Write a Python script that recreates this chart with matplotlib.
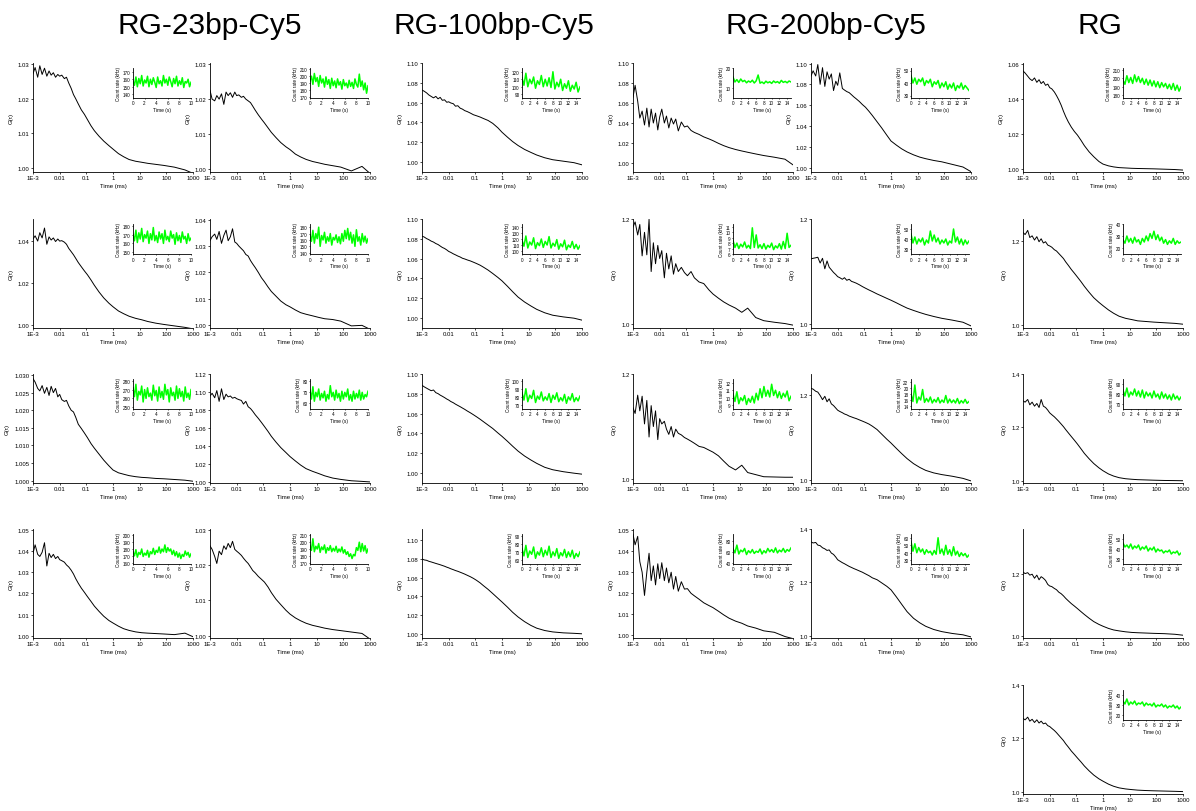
import matplotlib.pyplot as plt
from matplotlib.ticker import NullLocator

plt.rcParams['font.family'] = ['Liberation Sans', 'DejaVu Sans']

# lag times (ms) shared by every correlation curve
tau = [0.001, 0.0012, 0.0015, 0.0018, 0.0022, 0.0027, 0.0033, 0.004, 0.0048, 0.0058,
       0.007, 0.0085, 0.01, 0.012, 0.015, 0.018, 0.022, 0.027, 0.033, 0.04,
       0.05, 0.065, 0.085, 0.11, 0.15, 0.2, 0.3, 0.45, 0.7, 1,
       1.6, 2.5, 4, 7, 12, 20, 40, 80, 200, 500,
       1000]

# count rate time axes (s)
t10 = [0, 0.25, 0.5, 0.75, 1, 1.25, 1.5, 1.75, 2, 2.25,
       2.5, 2.75, 3, 3.25, 3.5, 3.75, 4, 4.25, 4.5, 4.75,
       5, 5.25, 5.5, 5.75, 6, 6.25, 6.5, 6.75, 7, 7.25,
       7.5, 7.75, 8, 8.25, 8.5, 8.75, 9, 9.25, 9.5, 9.75, 10]
t15 = [0, 0.5, 1, 1.5, 2, 2.5, 3, 3.5, 4, 4.5,
       5, 5.5, 6, 6.5, 7, 7.5, 8, 8.5, 9, 9.5,
       10, 10.5, 11, 11.5, 12, 12.5, 13, 13.5, 14, 14.5, 15]

# ---- G(tau) curves ----
g_23_1 = [1.0272, 1.0290, 1.0262, 1.0295, 1.0270, 1.0288, 1.0265, 1.0280, 1.0268, 1.0275,
          1.0262, 1.0270, 1.0265, 1.0268, 1.0258, 1.0262, 1.0245, 1.0230, 1.0212, 1.0200,
          1.0185, 1.0168, 1.0155, 1.0140, 1.0122, 1.0108, 1.0092, 1.0078, 1.0065, 1.0055,
          1.0042, 1.0033, 1.0025, 1.0020, 1.0017, 1.0014, 1.0011, 1.0008, 1.0003, 0.9995,
          0.9985]
g_23_2 = [1.0225, 1.0200, 1.0195, 1.0210, 1.0200, 1.0215, 1.0185, 1.0220, 1.0210, 1.0218,
          1.0205, 1.0220, 1.0210, 1.0212, 1.0205, 1.0208, 1.0200, 1.0195, 1.0190, 1.0180,
          1.0168, 1.0155, 1.0143, 1.0132, 1.0118, 1.0105, 1.0090, 1.0076, 1.0064, 1.0056,
          1.0043, 1.0035, 1.0028, 1.0022, 1.0018, 1.0014, 1.0010, 1.0006, 0.9995, 1.0008,
          0.9988]
g_23_3 = [1.0410, 1.0425, 1.0400, 1.0440, 1.0415, 1.0462, 1.0385, 1.0420, 1.0405, 1.0415,
          1.0398, 1.0410, 1.0400, 1.0402, 1.0395, 1.0385, 1.0365, 1.0350, 1.0335, 1.0318,
          1.0298, 1.0278, 1.0258, 1.0240, 1.0215, 1.0190, 1.0158, 1.0130, 1.0105, 1.0088,
          1.0068, 1.0055, 1.0043, 1.0033, 1.0026, 1.0018, 1.0010, 1.0004, 0.9997, 0.9990,
          0.9983]
g_23_4 = [1.0320, 1.0335, 1.0345, 1.0325, 1.0355, 1.0310, 1.0340, 1.0360, 1.0320, 1.0335,
          1.0365, 1.0315, 1.0310, 1.0300, 1.0290, 1.0282, 1.0268, 1.0262, 1.0245, 1.0232,
          1.0218, 1.0200, 1.0180, 1.0165, 1.0145, 1.0128, 1.0110, 1.0092, 1.0078, 1.0070,
          1.0058, 1.0048, 1.0042, 1.0036, 1.0030, 1.0025, 1.0022, 1.0016, 0.9998, 1.0000,
          0.9985]
g_23_5 = [1.0290, 1.0280, 1.0262, 1.0255, 1.0270, 1.0248, 1.0265, 1.0242, 1.0268, 1.0250,
          1.0262, 1.0238, 1.0245, 1.0230, 1.0225, 1.0228, 1.0212, 1.0200, 1.0195, 1.0180,
          1.0160, 1.0148, 1.0135, 1.0122, 1.0105, 1.0092, 1.0075, 1.0058, 1.0042, 1.0030,
          1.0022, 1.0018, 1.0014, 1.0011, 1.0009, 1.0008, 1.0006, 1.0005, 1.0003, 1.0001,
          0.9998]
g_23_6 = [1.0960, 1.0990, 1.0940, 1.1020, 1.0900, 1.1040, 1.0920, 1.0980, 1.0950, 1.0960,
          1.0935, 1.0945, 1.0930, 1.0920, 1.0910, 1.0870, 1.0900, 1.0840, 1.0820, 1.0790,
          1.0750, 1.0710, 1.0665, 1.0620, 1.0565, 1.0510, 1.0445, 1.0385, 1.0330, 1.0285,
          1.0235, 1.0190, 1.0150, 1.0120, 1.0095, 1.0070, 1.0045, 1.0030, 1.0015, 1.0008,
          1.0002]
g_23_7 = [1.0390, 1.0430, 1.0385, 1.0375, 1.0395, 1.0440, 1.0330, 1.0390, 1.0370, 1.0385,
          1.0365, 1.0375, 1.0360, 1.0355, 1.0348, 1.0335, 1.0325, 1.0310, 1.0292, 1.0270,
          1.0248, 1.0225, 1.0205, 1.0185, 1.0162, 1.0140, 1.0115, 1.0092, 1.0072, 1.0060,
          1.0045, 1.0033, 1.0025, 1.0018, 1.0014, 1.0012, 1.0010, 1.0008, 1.0005, 1.0012,
          0.9995]
g_23_8 = [1.0255, 1.0245, 1.0225, 1.0205, 1.0240, 1.0230, 1.0255, 1.0245, 1.0262, 1.0250,
          1.0268, 1.0245, 1.0240, 1.0235, 1.0228, 1.0220, 1.0212, 1.0205, 1.0195, 1.0185,
          1.0178, 1.0168, 1.0160, 1.0152, 1.0138, 1.0122, 1.0103, 1.0088, 1.0072, 1.0061,
          1.0050, 1.0042, 1.0035, 1.0029, 1.0025, 1.0021, 1.0017, 1.0014, 1.0010, 1.0006,
          0.9990]

g_100_1 = [1.0730, 1.0718, 1.0700, 1.0680, 1.0665, 1.0650, 1.0665, 1.0640, 1.0655, 1.0625,
           1.0630, 1.0605, 1.0610, 1.0598, 1.0590, 1.0565, 1.0570, 1.0545, 1.0535, 1.0520,
           1.0510, 1.0495, 1.0478, 1.0468, 1.0455, 1.0440, 1.0420, 1.0390, 1.0345, 1.0300,
           1.0250, 1.0205, 1.0165, 1.0125, 1.0095, 1.0068, 1.0040, 1.0020, 1.0005, 0.9990,
           0.9968]
g_100_2 = [1.0830, 1.0822, 1.0805, 1.0795, 1.0780, 1.0770, 1.0755, 1.0745, 1.0730, 1.0715,
           1.0705, 1.0690, 1.0675, 1.0665, 1.0650, 1.0640, 1.0628, 1.0618, 1.0605, 1.0598,
           1.0588, 1.0578, 1.0565, 1.0552, 1.0535, 1.0515, 1.0485, 1.0450, 1.0410, 1.0375,
           1.0320, 1.0265, 1.0210, 1.0160, 1.0120, 1.0085, 1.0050, 1.0025, 1.0008, 0.9995,
           0.9975]
g_100_3 = [1.0890, 1.0875, 1.0860, 1.0848, 1.0835, 1.0842, 1.0815, 1.0805, 1.0790, 1.0778,
           1.0765, 1.0750, 1.0740, 1.0725, 1.0712, 1.0698, 1.0685, 1.0672, 1.0658, 1.0645,
           1.0628, 1.0610, 1.0590, 1.0570, 1.0545, 1.0520, 1.0485, 1.0450, 1.0405, 1.0370,
           1.0320, 1.0270, 1.0220, 1.0170, 1.0130, 1.0095, 1.0055, 1.0030, 1.0010, 0.9995,
           0.9985]
g_100_4 = [1.0800, 1.0790, 1.0785, 1.0775, 1.0768, 1.0760, 1.0752, 1.0745, 1.0738, 1.0730,
           1.0722, 1.0712, 1.0705, 1.0695, 1.0685, 1.0676, 1.0668, 1.0658, 1.0648, 1.0638,
           1.0625, 1.0610, 1.0592, 1.0572, 1.0545, 1.0515, 1.0475, 1.0430, 1.0380, 1.0340,
           1.0285, 1.0230, 1.0180, 1.0130, 1.0090, 1.0060, 1.0035, 1.0020, 1.0010, 1.0005,
           1.0000]

g_200_1 = [1.0660, 1.0780, 1.0620, 1.0450, 1.0520, 1.0380, 1.0550, 1.0360, 1.0540, 1.0400,
           1.0500, 1.0330, 1.0460, 1.0540, 1.0400, 1.0470, 1.0350, 1.0450, 1.0390, 1.0440,
           1.0320, 1.0410, 1.0360, 1.0370, 1.0325, 1.0305, 1.0285, 1.0260, 1.0240, 1.0222,
           1.0195, 1.0172, 1.0152, 1.0133, 1.0118, 1.0105, 1.0088, 1.0072, 1.0055, 1.0035,
           0.9978]
g_200_2 = [1.0880, 1.0930, 1.0880, 1.0990, 1.0800, 1.0960, 1.0780, 1.0920, 1.0850, 1.0900,
           1.0740, 1.0830, 1.0790, 1.0910, 1.0760, 1.0745, 1.0730, 1.0720, 1.0700, 1.0680,
           1.0660, 1.0635, 1.0605, 1.0580, 1.0540, 1.0500, 1.0440, 1.0380, 1.0310, 1.0255,
           1.0215, 1.0180, 1.0150, 1.0122, 1.0100, 1.0085, 1.0068, 1.0055, 1.0030, 1.0005,
           0.9960]
g_200_3 = [1.1850, 1.1950, 1.1700, 1.1900, 1.1300, 1.1750, 1.1320, 1.2000, 1.1000, 1.1550,
           1.1150, 1.1500, 1.1250, 1.1400, 1.0880, 1.1350, 1.1050, 1.1300, 1.0950, 1.1150,
           1.1000, 1.1080, 1.0980, 1.0920, 1.1000, 1.0880, 1.0800, 1.0770, 1.0650, 1.0570,
           1.0490, 1.0420, 1.0360, 1.0300, 1.0220, 1.0300, 1.0120, 1.0060, 1.0030, 1.0005,
           0.9975]
g_200_4 = [1.1240, 1.1250, 1.1260, 1.1270, 1.1160, 1.1250, 1.1050, 1.1200, 1.1080, 1.1030,
           1.0980, 1.0940, 1.0900, 1.0880, 1.0850, 1.0880, 1.0830, 1.0850, 1.0810, 1.0795,
           1.0775, 1.0745, 1.0710, 1.0680, 1.0645, 1.0615, 1.0570, 1.0530, 1.0485, 1.0450,
           1.0400, 1.0350, 1.0300, 1.0255, 1.0215, 1.0180, 1.0140, 1.0105, 1.0070, 1.0030,
           0.9960]
g_200_5 = [1.1360, 1.1250, 1.1600, 1.1300, 1.1580, 1.1050, 1.1500, 1.0800, 1.1400, 1.1000,
           1.1300, 1.0750, 1.1150, 1.1050, 1.1100, 1.0950, 1.0850, 1.1000, 1.0800, 1.0950,
           1.0870, 1.0840, 1.0790, 1.0760, 1.0720, 1.0680, 1.0620, 1.0600, 1.0550, 1.0510,
           1.0440, 1.0340, 1.0240, 1.0170, 1.0260, 1.0120, 1.0080, 1.0040, 1.0035, 1.0030,
           1.0030]
g_200_6 = [1.2170, 1.2150, 1.2100, 1.2080, 1.2000, 1.1900, 1.1980, 1.1850, 1.1920, 1.1800,
           1.1760, 1.1700, 1.1650, 1.1620, 1.1590, 1.1560, 1.1540, 1.1510, 1.1490, 1.1470,
           1.1450, 1.1420, 1.1390, 1.1360, 1.1320, 1.1270, 1.1190, 1.1080, 1.0960, 1.0870,
           1.0740, 1.0620, 1.0500, 1.0380, 1.0290, 1.0220, 1.0160, 1.0120, 1.0080, 1.0030,
           0.9970]
g_200_7 = [1.0480, 1.0430, 1.0470, 1.0350, 1.0300, 1.0190, 1.0300, 1.0390, 1.0260, 1.0330,
           1.0240, 1.0340, 1.0270, 1.0345, 1.0260, 1.0320, 1.0250, 1.0300, 1.0220, 1.0280,
           1.0210, 1.0255, 1.0220, 1.0222, 1.0200, 1.0188, 1.0172, 1.0155, 1.0142, 1.0132,
           1.0115, 1.0098, 1.0082, 1.0068, 1.0058, 1.0045, 1.0035, 1.0022, 1.0015, 0.9995,
           0.9985]
g_200_8 = [1.3520, 1.3480, 1.3500, 1.3400, 1.3380, 1.3300, 1.3260, 1.3200, 1.3220, 1.3100,
           1.3050, 1.2950, 1.2850, 1.2800, 1.2740, 1.2700, 1.2650, 1.2600, 1.2560, 1.2520,
           1.2480, 1.2430, 1.2380, 1.2320, 1.2250, 1.2170, 1.2100, 1.1980, 1.1850, 1.1720,
           1.1450, 1.1180, 1.0900, 1.0650, 1.0480, 1.0350, 1.0230, 1.0150, 1.0080, 1.0030,
           0.9950]

g_rg_1 = [1.0560, 1.0548, 1.0530, 1.0515, 1.0505, 1.0520, 1.0495, 1.0510, 1.0488, 1.0500,
          1.0478, 1.0485, 1.0465, 1.0458, 1.0440, 1.0420, 1.0395, 1.0365, 1.0330, 1.0300,
          1.0270, 1.0240, 1.0215, 1.0195, 1.0165, 1.0135, 1.0100, 1.0072, 1.0045, 1.0030,
          1.0020, 1.0014, 1.0010, 1.0008, 1.0006, 1.0005, 1.0004, 1.0003, 1.0001, 0.9999,
          0.9996]
g_rg_2 = [1.2200, 1.2150, 1.2250, 1.2080, 1.2120, 1.2020, 1.2100, 1.1980, 1.2050, 1.1950,
          1.1980, 1.1900, 1.1880, 1.1850, 1.1790, 1.1760, 1.1700, 1.1640, 1.1580, 1.1500,
          1.1420, 1.1320, 1.1230, 1.1140, 1.1030, 1.0920, 1.0780, 1.0650, 1.0540, 1.0460,
          1.0360, 1.0280, 1.0210, 1.0160, 1.0130, 1.0100, 1.0085, 1.0070, 1.0055, 1.0040,
          1.0020]
g_rg_3 = [1.3000, 1.2950, 1.3050, 1.2850, 1.2950, 1.2800, 1.2900, 1.2750, 1.3050, 1.2800,
          1.2750, 1.2650, 1.2550, 1.2480, 1.2400, 1.2320, 1.2230, 1.2130, 1.2030, 1.1920,
          1.1800, 1.1660, 1.1520, 1.1380, 1.1200, 1.1030, 1.0830, 1.0650, 1.0490, 1.0380,
          1.0260, 1.0180, 1.0120, 1.0080, 1.0060, 1.0045, 1.0035, 1.0025, 1.0015, 1.0010,
          1.0005]
g_rg_4 = [1.2050, 1.2000, 1.2030, 1.1950, 1.1980, 1.1850, 1.1950, 1.1800, 1.1900, 1.1850,
          1.1780, 1.1650, 1.1600, 1.1580, 1.1520, 1.1480, 1.1400, 1.1350, 1.1280, 1.1200,
          1.1120, 1.1030, 1.0950, 1.0870, 1.0770, 1.0680, 1.0560, 1.0450, 1.0360, 1.0300,
          1.0230, 1.0180, 1.0150, 1.0120, 1.0100, 1.0090, 1.0080, 1.0070, 1.0060, 1.0040,
          1.0010]
g_rg_5 = [1.2750, 1.2700, 1.2800, 1.2650, 1.2720, 1.2600, 1.2700, 1.2580, 1.2650, 1.2550,
          1.2580, 1.2480, 1.2450, 1.2380, 1.2300, 1.2220, 1.2120, 1.2020, 1.1920, 1.1800,
          1.1680, 1.1530, 1.1400, 1.1270, 1.1120, 1.0970, 1.0790, 1.0630, 1.0490, 1.0400,
          1.0290, 1.0210, 1.0150, 1.0110, 1.0085, 1.0065, 1.0050, 1.0040, 1.0030, 1.0020,
          1.0010]

# ---- count rate traces (kHz) ----
cr_23_1 = [158, 152, 163, 150, 161, 154, 165, 151, 159, 155, 164, 150, 160, 153, 162, 156, 149, 163, 154, 158,
           151, 165, 155, 160, 152, 163, 157, 150, 161, 154, 164, 151, 158, 153, 162, 149, 157, 155, 160, 150, 156]
cr_23_2 = [193, 200, 188, 204, 192, 198, 185, 201, 190, 196, 184, 199, 188, 195, 182, 197, 186, 193, 183, 196,
           187, 192, 181, 195, 186, 190, 183, 194, 185, 191, 182, 196, 188, 184, 203, 185, 193, 180, 190, 175, 186]
cr_23_3 = [170, 163, 175, 161, 172, 165, 177, 162, 170, 166, 174, 160, 171, 164, 178, 163, 169, 161, 173, 165,
           171, 160, 175, 164, 168, 162, 174, 166, 170, 159, 172, 163, 169, 161, 173, 165, 168, 160, 171, 163, 166]
cr_23_4 = [168, 158, 175, 155, 170, 162, 180, 150, 167, 160, 172, 155, 165, 158, 170, 152, 164, 160, 168, 156,
           165, 154, 170, 158, 175, 162, 178, 160, 172, 155, 168, 150, 176, 158, 165, 152, 170, 157, 166, 155, 162]
cr_23_5 = [272, 262, 276, 258, 268, 264, 274, 256, 270, 260, 272, 262, 266, 258, 275, 263, 269, 257, 273, 261,
           268, 259, 276, 264, 270, 256, 272, 263, 267, 258, 274, 260, 271, 262, 268, 257, 273, 261, 266, 259, 270]
cr_23_6 = [72, 64, 75, 62, 70, 66, 73, 63, 69, 65, 71, 62, 68, 64, 76, 66, 70, 63, 72, 65,
           69, 62, 71, 64, 70, 66, 73, 63, 68, 62, 71, 64, 69, 65, 72, 63, 70, 64, 68, 66, 71]
cr_23_7 = [176, 170, 179, 168, 175, 172, 180, 169, 174, 171, 178, 168, 176, 173, 181, 172, 178, 175, 183, 174,
           180, 176, 186, 175, 182, 177, 180, 172, 178, 170, 176, 168, 174, 166, 172, 169, 177, 171, 175, 168, 173]
cr_23_8 = [195, 188, 205, 186, 194, 190, 198, 185, 193, 189, 196, 184, 192, 188, 195, 186, 191, 187, 194, 185,
           190, 186, 193, 184, 189, 182, 186, 179, 183, 176, 182, 180, 192, 188, 200, 186, 198, 187, 195, 184, 190]

cr_100_1 = [112, 102, 118, 100, 110, 104, 113, 98, 108, 103, 115, 100, 110, 101, 112, 99,
            120, 97, 106, 100, 110, 95, 104, 98, 108, 94, 102, 97, 106, 93, 100]
cr_100_2 = [118, 108, 125, 105, 115, 110, 122, 104, 114, 109, 120, 106, 116, 110, 124, 105,
            113, 108, 119, 103, 112, 107, 118, 102, 110, 106, 116, 104, 111, 103, 109]
cr_100_3 = [85, 76, 90, 74, 82, 78, 88, 73, 81, 77, 86, 75, 80, 76, 84, 73,
            82, 77, 85, 74, 79, 75, 83, 72, 80, 76, 84, 74, 79, 75, 81]
cr_100_4 = [74, 65, 78, 63, 71, 67, 76, 62, 70, 66, 75, 64, 72, 66, 77, 63,
            70, 65, 74, 62, 69, 65, 73, 63, 70, 64, 72, 62, 68, 64, 70]

cr_200_1 = [15.5, 13.0, 14.2, 12.8, 14.5, 13.2, 13.8, 12.6, 13.5, 12.9, 13.9, 12.5, 13.6, 16.5, 12.4, 13.0,
            12.2, 13.4, 12.6, 13.1, 12.3, 13.5, 12.7, 13.2, 12.4, 13.8, 12.8, 13.3, 12.6, 13.5, 13.0]
cr_200_2 = [46, 40, 44, 39, 43, 41, 44, 38, 42, 40, 43, 37, 41, 39, 42, 36,
            40, 37, 41, 35, 39, 36, 40, 34, 38, 36, 40, 35, 38, 36, 34]
cr_200_3 = [8.5, 7.2, 8.0, 7.0, 7.8, 7.3, 8.2, 7.1, 7.6, 7.0, 10.8, 7.2, 9.5, 7.1, 7.7, 7.0,
            7.9, 6.9, 7.6, 7.2, 8.0, 6.8, 7.5, 7.1, 7.9, 6.9, 8.3, 7.0, 9.8, 7.2, 7.6]
cr_200_4 = [45, 36, 42, 35, 40, 37, 41, 34, 39, 36, 48, 38, 44, 37, 41, 35,
            39, 36, 40, 34, 38, 36, 50, 37, 42, 35, 40, 34, 39, 35, 38]
cr_200_5 = [10.5, 9.5, 10.8, 9.2, 10.0, 9.6, 10.3, 9.1, 9.9, 9.4, 10.2, 9.3, 10.6, 9.7, 11.2, 10.0,
            11.5, 10.2, 11.0, 10.1, 11.8, 10.3, 11.0, 10.0, 10.8, 9.9, 10.6, 10.1, 10.9, 9.6, 10.2]
cr_200_6 = [18, 15.5, 21, 15, 17, 16, 19.5, 15.2, 16.5, 15.4, 17, 15, 16.2, 15.3, 16.8, 15,
            16, 15.2, 17.5, 15, 16.3, 15.1, 16, 15, 16.5, 14.8, 15.8, 15, 16.2, 14.9, 15.5]
cr_200_7 = [66, 58, 72, 56, 63, 60, 66, 55, 62, 58, 64, 57, 61, 59, 65, 56,
            62, 58, 66, 60, 64, 59, 67, 58, 63, 60, 66, 59, 64, 61, 67]
cr_200_8 = [55, 42, 52, 40, 47, 41, 45, 38, 44, 40, 42, 37, 43, 38, 60, 39,
            45, 37, 50, 38, 44, 36, 48, 37, 42, 35, 40, 36, 39, 34, 37]

cr_rg_1 = [198, 193, 203, 195, 201, 194, 204, 196, 202, 195, 200, 193, 199, 192, 198, 191,
           197, 190, 196, 189, 195, 190, 194, 188, 193, 187, 194, 186, 192, 185, 190]
cr_rg_2 = [27, 24, 30, 25, 28, 24, 29, 25, 27, 23, 28, 25, 30, 26, 32, 28,
           34, 27, 31, 26, 29, 24, 27, 23, 26, 24, 28, 23, 26, 24, 25]
cr_rg_3 = [84, 78, 86, 77, 82, 79, 85, 78, 83, 77, 84, 76, 82, 78, 81, 76,
           83, 77, 80, 75, 82, 76, 80, 75, 79, 74, 80, 75, 78, 74, 77]
cr_rg_4 = [46, 42, 44, 41, 45, 40, 43, 41, 44, 39, 42, 40, 43, 38, 41, 39,
           42, 37, 40, 38, 39, 36, 38, 37, 39, 35, 37, 36, 38, 34, 36]
cr_rg_5 = [34, 31, 36, 30, 33, 31, 34, 30, 32, 31, 33, 29, 32, 30, 31, 29,
           32, 28, 30, 29, 31, 28, 30, 27, 29, 28, 30, 27, 29, 26, 28]

titres = ["RG-23bp-Cy5", "RG-100bp-Cy5", "RG-200bp-Cy5", "RG"]

# ---- layout (pixels of the 1196x812 figure) ----
W, H = 1196, 812
COL_X = [33, 210, 422, 633, 811, 1023]
ROW_Y = [64, 220, 375, 530, 686]
AX_W, AX_H = 160, 109
TITRE_X = [210, 494, 826, 1100]

d2 = [1.00, 1.01, 1.02, 1.03]
d2b = [1.00, 1.01, 1.02, 1.03, 1.04]
d2c = [1.00, 1.01, 1.02, 1.03, 1.04, 1.05]
s02 = [1.00, 1.02, 1.04, 1.06, 1.08, 1.10]
s02b = [1.00, 1.02, 1.04, 1.06, 1.08, 1.10, 1.12]
s005 = [1.000, 1.005, 1.010, 1.015, 1.020, 1.025, 1.030]

# col, row, curve, ylim, yticks, fmt, trace, trace ylim, trace yticks
panneaux = [
    (0, 0, g_23_1, (0.9989, 1.0303), d2, '%.2f', cr_23_1, (135, 175), [140, 150, 160, 170]),
    (1, 0, g_23_2, (0.9992, 1.0303), d2, '%.2f', cr_23_2, (168, 212), [170, 180, 190, 200, 210]),
    (0, 1, g_23_3, (0.9987, 1.0505), [1.00, 1.02, 1.04], '%.2f', cr_23_3, (148, 182), [150, 160, 170, 180]),
    (1, 1, g_23_4, (0.9990, 1.0402), d2b, '%.2f', cr_23_4, (138, 185), [140, 150, 160, 170, 180]),
    (0, 2, g_23_5, (0.9993, 1.0303), s005, '%.3f', cr_23_5, (248, 282), [250, 260, 270, 280]),
    (1, 2, g_23_6, (0.9990, 1.1205), s02b, '%.2f', cr_23_6, (55, 82), [60, 70, 80]),
    (0, 3, g_23_7, (0.9989, 1.0505), d2c, '%.2f', cr_23_7, (158, 202), [160, 170, 180, 190, 200]),
    (1, 3, g_23_8, (0.9993, 1.0303), d2, '%.2f', cr_23_8, (168, 212), [170, 180, 190, 200, 210]),
    (2, 0, g_100_1, (0.9895, 1.1005), s02, '%.2f', cr_100_1, (85, 125), [90, 100, 110, 120]),
    (2, 1, g_100_2, (0.9895, 1.1005), s02, '%.2f', cr_100_2, (95, 145), [100, 110, 120, 130, 140]),
    (2, 2, g_100_3, (0.9895, 1.1005), s02, '%.2f', cr_100_3, (65, 102), [70, 80, 90, 100]),
    (2, 3, g_100_4, (0.9955, 1.1120), s02, '%.2f', cr_100_4, (55, 92), [60, 70, 80, 90]),
    (3, 0, g_200_1, (0.9906, 1.1005), s02, '%.2f', cr_200_1, (5, 20), [10, 20]),
    (4, 0, g_200_2, (0.9957, 1.1005), s02, '%.2f', cr_200_2, (28, 52), [30, 40, 50]),
    (3, 1, g_200_3, (0.9920, 1.2005), [1.0, 1.2], '%.1f', cr_200_3, (6, 11.5), [6, 7, 8, 9, 10, 11]),
    (4, 1, g_200_4, (0.9920, 1.1600), [1.0, 1.2], '%.1f', cr_200_4, (25, 55), [30, 40, 50]),
    (3, 2, g_200_5, (0.9920, 1.2005), [1.0, 1.2], '%.1f', cr_200_5, (8.5, 12.5), [9, 10, 11, 12]),
    (4, 2, g_200_6, (0.9920, 1.2510), [1.0, 1.2], '%.1f', cr_200_6, (13, 23), [14, 16, 18, 20, 22]),
    (3, 3, g_200_7, (0.9988, 1.0505), d2c, '%.2f', cr_200_7, (38, 92), [40, 60, 80]),
    (4, 3, g_200_8, (0.9910, 1.4005), [1.0, 1.2, 1.4], '%.1f', cr_200_8, (25, 65), [30, 40, 50, 60]),
    (5, 0, g_rg_1, (0.9985, 1.0605), [1.00, 1.02, 1.04, 1.06], '%.2f', cr_rg_1, (177, 212), [180, 190, 200, 210]),
    (5, 1, g_rg_2, (0.9930, 1.2520), [1.0, 1.2], '%.1f', cr_rg_2, (15, 40), [20, 30, 40]),
    (5, 2, g_rg_3, (0.9920, 1.4005), [1.0, 1.2, 1.4], '%.1f', cr_rg_3, (65, 95), [70, 80, 90]),
    (5, 3, g_rg_4, (0.9920, 1.3440), [1.0, 1.2], '%.1f', cr_rg_4, (25, 55), [30, 40, 50]),
    (5, 4, g_rg_5, (0.9920, 1.4005), [1.0, 1.2, 1.4], '%.1f', cr_rg_5, (15, 45), [20, 30, 40]),
]

xt = [1e-3, 1e-2, 1e-1, 1, 10, 100, 1000]
xt_lab = ['1E-3', '0.01', '0.1', '1', '10', '100', '1000']


def style(ax, taille):
    ax.spines['top'].set_visible(False)
    ax.spines['right'].set_visible(False)
    for s in ['left', 'bottom']:
        ax.spines[s].set_linewidth(0.6)
    ax.tick_params(direction='out', length=1.5, width=0.5, labelsize=taille, pad=1)


def panneau(fig, col, row, g, ylim, yticks, fmt, cr, cr_ylim, cr_ticks):
    left = COL_X[col] / W
    bottom = 1 - (ROW_Y[row] + AX_H) / H
    ax = fig.add_axes([left, bottom, AX_W / W, AX_H / H])
    ax.plot(tau, g, color='black', lw=0.7)
    ax.set_xscale('log')
    ax.set_xlim(1e-3, 1e3)
    ax.set_ylim(*ylim)
    ax.set_xticks(xt)
    ax.set_xticklabels(xt_lab)
    ax.xaxis.set_minor_locator(NullLocator())
    ax.set_yticks(yticks)
    ax.set_yticklabels([fmt % v for v in yticks])
    style(ax, 4.3)
    ax.set_xlabel('Time (ms)', fontsize=4.3, labelpad=1.5)
    ax.set_ylabel('G(τ)', fontsize=4.3, labelpad=3)

    # count rate inset
    t = t10 if len(cr) == len(t10) else t15
    ins = ax.inset_axes([100 / AX_W, 74 / AX_H, 58 / AX_W, 30 / AX_H])
    ins.plot(t, cr, color='#00ff00', lw=1.1)
    ins.set_xlim(0, t[-1])
    ins.set_ylim(*cr_ylim)
    ins.set_xticks(list(range(0, int(t[-1]) + 1, 2)))
    ins.set_yticks(cr_ticks)
    ins.patch.set_alpha(0)
    style(ins, 3.3)
    ins.tick_params(length=1, pad=0.8)
    ins.set_xlabel('Time (s)', fontsize=3.5, labelpad=1)
    ins.set_ylabel('Count rate (kHz)', fontsize=3.3, labelpad=1)


fig = plt.figure(figsize=(W / 100, H / 100), dpi=100)
for p in panneaux:
    panneau(fig, *p)

for x, titre in zip(TITRE_X, titres):
    fig.text(x / W, 1 - 26 / H, titre, ha='center', va='center', fontsize=21.5)

fig.savefig('out.png', dpi=100)
